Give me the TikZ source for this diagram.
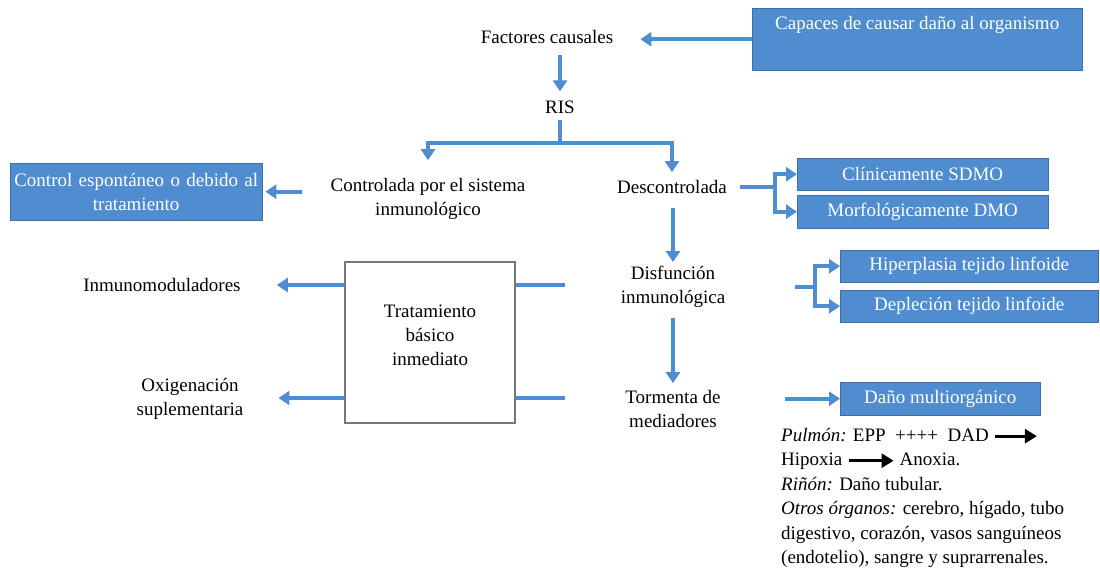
\documentclass[tikz,border=0pt]{standalone}
\usepackage{fontspec}
\setmainfont{Liberation Serif}
\usetikzlibrary{arrows.meta}
\definecolor{flowblue}{RGB}{79,141,208}
\definecolor{boxedge}{RGB}{62,110,168}
\definecolor{treatedge}{RGB}{120,120,120}
\tikzset{
  lbl/.style={align=center, font=\fontsize{19}{24}\selectfont, inner sep=0pt},
  bluebox/.style={draw=boxedge, fill=flowblue, text=white, align=center,
    font=\fontsize{19}{24}\selectfont, inner sep=2pt, anchor=north west},
  bline/.style={draw=flowblue, line width=4pt},
  barrow/.style={bline, -{Triangle[length=11pt,width=14pt]}},
}
\newcommand{\blkarrow}[1]{\tikz[baseline=-0.6ex]\draw[black,line width=2.8pt,-{Triangle[length=12pt,width=14pt]}] (0pt,0pt) -- (#1,0pt);}
\begin{document}
\begin{tikzpicture}[x=1pt,y=-1pt]
\useasboundingbox (0,0) rectangle (1100,571);
% central chain
\node[lbl] (fc) at (547,37) {Factores causales};
\node[lbl] (ris) at (560,107) {RIS};
\node[lbl] (ctrl) at (428,199) {Controlada por el sistema\\inmunológico};
\node[lbl] (desc) at (672,187) {Descontrolada};
\node[lbl] (dis) at (673,287) {Disfunción\\inmunológica};
\node[lbl] (torm) at (673,409) {Tormenta de\\mediadores};
\node[lbl] (imm) at (162,285) {Inmunomoduladores};
\node[lbl] (oxi) at (190,399) {Oxigenación\\suplementaria};
\node[draw=treatedge, line width=1.2pt, lbl, minimum width=170, minimum height=161,
  text depth=14pt] (treat) at (430,342.5) {Tratamiento\\básico\\inmediato};
% blue boxes
\node[bluebox, minimum width=330, minimum height=62, text height=14pt, text depth=34pt,
  inner ysep=6pt] (cap) at (752,8) {Capaces de causar daño al organismo};
\node[bluebox, text width=248, minimum height=57] (ctl) at (10,163)
  {Control espontáneo o debido al\\tratamiento};
\node[bluebox, minimum width=251, minimum height=32] (clin) at (797,158) {Clínicamente SDMO};
\node[bluebox, minimum width=251, minimum height=33] (morf) at (797,195) {Morfológicamente DMO};
\node[bluebox, minimum width=258, minimum height=32] (hip) at (840,250) {Hiperplasia tejido linfoide};
\node[bluebox, minimum width=258, minimum height=32] (dep) at (840,290) {Depleción tejido linfoide};
\node[bluebox, minimum width=200, minimum height=33] (dano) at (840,382) {Daño multiorgánico};
% notes
\node[font=\fontsize{19}{24.5}\selectfont, align=left, anchor=north west, inner sep=0pt]
  (notes) at (781,428) {\textit{Pulmón:} EPP\enspace ++++\enspace DAD \blkarrow{42pt}\\
  Hipoxia \blkarrow{45pt} Anoxia.\\
  \textit{Riñón:} Daño tubular.\\
  \textit{Otros órganos:} cerebro, hígado, tubo\\
  digestivo, corazón, vasos sanguíneos\\
  (endotelio), sangre y suprarrenales.};
% connectors
\coordinate (jn) at (560,143);
\coordinate (db) at (775,187);
\coordinate (hb) at (815,287);
\coordinate (r1) at (565,285);
\coordinate (r2) at (565,398);
\draw[barrow, shorten >=27pt] (cap.west) -- (cap.west -| fc.east);
\draw[barrow, shorten <=11pt, shorten >=9pt] (fc.south -| ris) -- (ris.north);
\draw[bline, shorten <=6pt] (ris.south) -- (jn);
\draw[barrow, shorten >=18pt] (jn) -| (ctrl.north);
\draw[barrow, shorten >=8pt] (jn) -| (desc.north);
\draw[barrow, shorten <=28pt, shorten >=3pt] (ctrl.west |- ctl.east) -- (ctl.east);
\draw[bline, shorten <=13pt] (desc.east) -- (db);
\draw[barrow] (db) |- (clin.west);
\draw[barrow] (db) |- (morf.west);
\draw[barrow, shorten <=14pt, shorten >=4pt] (desc.south -| dis.north) -- (dis.north);
\draw[bline, shorten <=70pt] (dis.east) -- (hb);
\draw[barrow] (hb) |- (hip.west);
\draw[barrow] (hb) |- (dep.west);
\draw[barrow, shorten <=10pt, shorten >=7pt] (dis.south) -- (torm.north);
\draw[barrow, shorten <=64pt] (torm.east |- dano.west) -- (dano.west);
\draw[bline] (treat.east |- r1) -- (r1);
\draw[bline] (treat.east |- r2) -- (r2);
\draw[barrow, shorten >=36pt] (treat.west |- imm) -- (imm.east);
\draw[barrow, shorten >=35pt] (treat.west |- r2) -- (treat.west |- r2 -| oxi.east);
\end{tikzpicture}
\end{document}
